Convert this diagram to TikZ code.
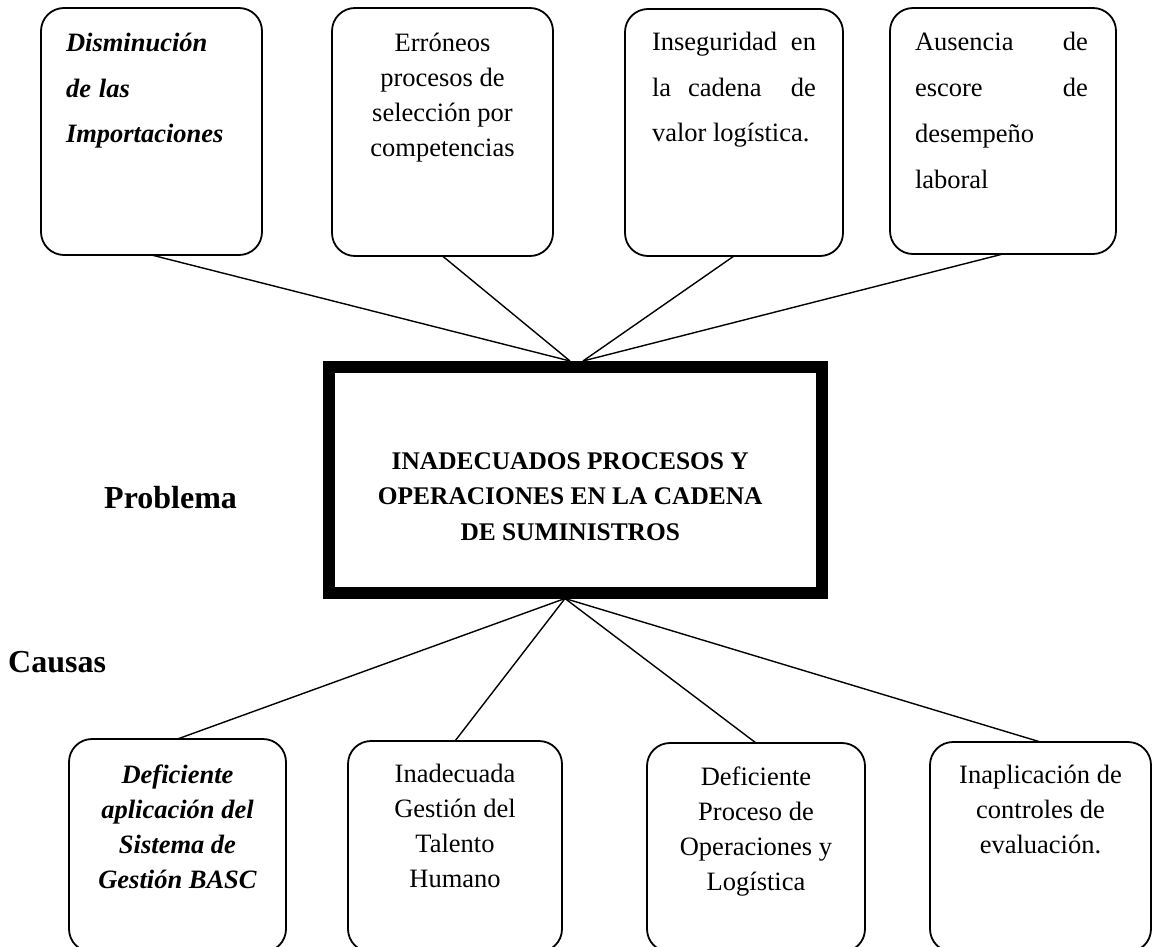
\documentclass[tikz,border=0pt]{standalone}
\usepackage{fontspec}
\setmainfont{Liberation Serif}

% a box body: width, height, contents (the contents open with \firstline{offset of first baseline})
\newcommand{\cellbody}[3]{\parbox[c][#2][t]{#1}{#3}}
\newcommand{\firstline}[1]{\rule{0pt}{#1}}
\newcommand{\boxfont}[1]{\fontsize{26.5}{#1}\selectfont}

\tikzset{
  cellbox/.style={draw, line width=1.8pt, rounded corners=23pt, inner sep=0pt, outer sep=0pt},
  problembox/.style={draw, line width=12pt, inner sep=0pt},
  link/.style={line width=1.4pt},
  heading/.style={font=\fontsize{32}{38}\selectfont\bfseries, inner sep=0pt, anchor=base west}
}

\begin{document}
\begin{tikzpicture}[x=1pt, y=-1pt]
\useasboundingbox (0,0) rectangle (1154,947);
\clip (0,0) rectangle (1154,947);

% effects (top row)
\node[cellbox] (t1) at (151.5,131.5) {\cellbody{221pt}{247pt}{\boxfont{45.5}\bfseries\itshape\raggedright\leftskip=25pt
  \firstline{44pt}Disminución\\de\hspace{8pt}las\\Importaciones}};
\node[cellbox] (t2) at (442.5,132) {\cellbody{221pt}{248pt}{\boxfont{35}\centering
  \firstline{44pt}Erróneos\\procesos de\\selección por\\competencias}};
\node[cellbox] (t3) at (734,132.5) {\cellbody{218pt}{247pt}{\boxfont{45.5}\leftskip=27pt\rightskip=27pt
  \firstline{42pt}Inseguridad\hfill en\\la\hspace{17pt}cadena\hfill de\\valor logística.}};
\node[cellbox] (t4) at (1003,131) {\cellbody{226pt}{246pt}{\boxfont{45.7}\leftskip=25pt\rightskip=28pt
  \firstline{43pt}Ausencia\hfill de\\escore\hfill de\\desempeño\\laboral}};

% central problem
\node[problembox] (main) at (575.25,479.75) {\cellbody{492.5pt}{225.5pt}{\fontsize{25.4}{35.5}\selectfont\bfseries\centering\rightskip=10pt plus 1fil
  \firstline{102pt}INADECUADOS PROCESOS Y\\OPERACIONES EN LA CADENA\\DE SUMINISTROS}};

% causes (bottom row)
\node[cellbox] (bA) at (177.5,845.5) {\cellbody{217pt}{213pt}{\boxfont{35}\bfseries\itshape\centering
  \firstline{44pt}Deficiente\\aplicación del\\Sistema de\\Gestión BASC}};
\node[cellbox] (bB) at (455,846.5) {\cellbody{214pt}{211pt}{\boxfont{35}\centering
  \firstline{41pt}Inadecuada\\Gestión del\\Talento\\Humano}};
\node[cellbox] (bC) at (756,847.5) {\cellbody{218pt}{209pt}{\boxfont{35}\centering
  \firstline{42pt}Deficiente\\Proceso de\\Operaciones y\\Logística}};
\node[cellbox] (bD) at (1040.5,847) {\cellbody{221pt}{210pt}{\boxfont{35}\centering
  \firstline{41pt}Inaplicación de\\controles de\\evaluación.}};

% side headings
\node[heading] (prob) at (104,508) {Problema};
\node[heading] (caus) at (8,672) {Causas};

% meeting points on the problem box
\coordinate (hubTL) at ([xshift=-5.25pt]main.north);
\coordinate (hubTR) at ([xshift=7.75pt]main.north);
\coordinate (hubB) at ([xshift=-10.25pt]main.south);

% connectors
\draw[link] (t1.south) -- (hubTL);
\draw[link] (t2.south) -- (hubTL);
\draw[link] (t3.south) -- (hubTR);
\draw[link] (t4.south) -- (hubTR);
\draw[link] (hubB) -- (bA.north);
\draw[link] (hubB) -- (bB.north);
\draw[link] (hubB) -- (bC.north);
\draw[link] (hubB) -- (bD.north);
\end{tikzpicture}
\end{document}
